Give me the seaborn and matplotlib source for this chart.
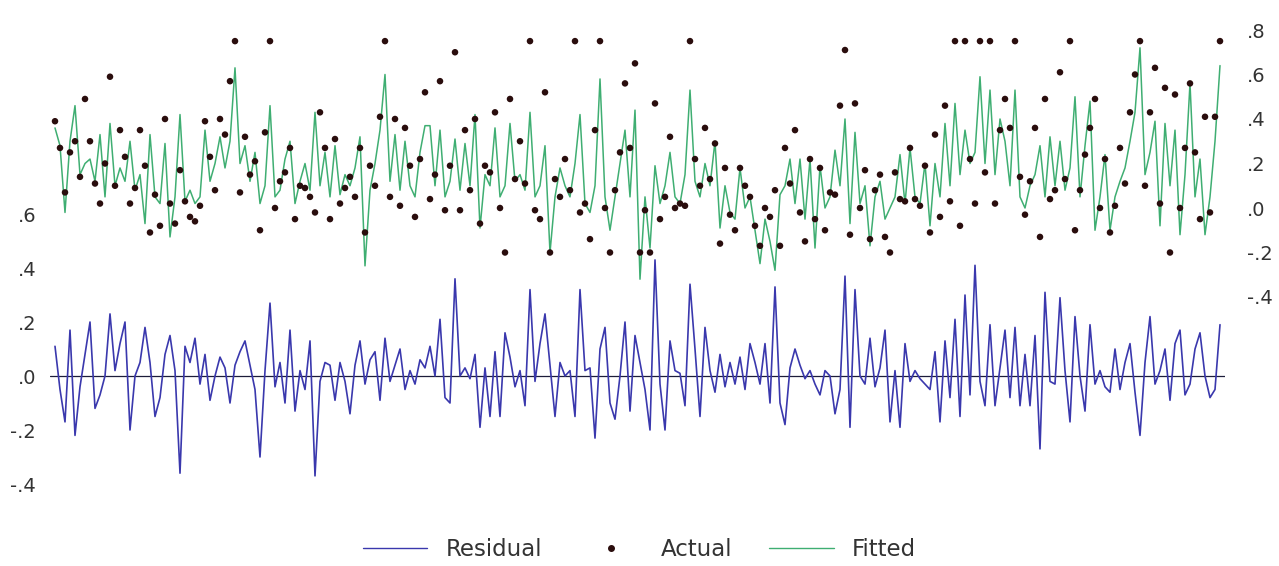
import numpy as np
import pandas as pd
import seaborn as sns
import matplotlib
matplotlib.use("Agg")
import matplotlib.pyplot as plt
from matplotlib.lines import Line2D

residual = [
    0.11, -0.05, -0.17, 0.17, -0.22, -0.04, 0.08, 0.20, -0.12, -0.07,
    0.00, 0.23, 0.02, 0.12, 0.20, -0.20, 0.00, 0.05, 0.18, 0.05,
    -0.15, -0.08, 0.08, 0.15, 0.02, -0.36, 0.11, 0.05, 0.14, -0.03,
    0.08, -0.09, 0.00, 0.07, 0.03, -0.10, 0.04,
    0.09, 0.13, 0.04, -0.05, -0.30, 0.02, 0.27, -0.04, 0.05, -0.10,
    0.17, -0.13, 0.02, -0.05, 0.13, -0.37, -0.02, 0.05, 0.04, -0.09,
    0.05, -0.02, -0.14, 0.04, 0.13, -0.03, 0.06, 0.09, -0.09, 0.14,
    -0.02, 0.04, 0.10, -0.05, 0.02, -0.03, 0.06, 0.03,
    0.11, 0.00, 0.21, -0.08, -0.10, 0.36, 0.00, 0.03, -0.01, 0.08,
    -0.19, 0.03, -0.15, 0.09, -0.15, 0.16, 0.07, -0.04, 0.02, -0.11,
    0.32, -0.02, 0.12, 0.23, 0.04, -0.15, 0.05, 0.00, 0.02, -0.15,
    0.32, 0.02, 0.03, -0.23, 0.10, 0.18, -0.10, -0.16, 0.00,
    0.20, -0.13, 0.15, 0.05, -0.05, -0.20, 0.43, -0.03, -0.20, 0.13,
    0.02, 0.01, -0.11, 0.34, 0.10, -0.15, 0.18, 0.02, -0.06, 0.08,
    -0.04, 0.05, -0.03, 0.07, -0.05, 0.12, 0.05, -0.03, 0.12, -0.10,
    0.33, -0.10, -0.18, 0.03, 0.10, 0.04, -0.01,
    0.02, -0.03, -0.07, 0.02, 0.00, -0.14, -0.05, 0.37, -0.19, 0.32,
    0.00, -0.03, 0.14, -0.04, 0.03, 0.17, -0.17, 0.02, -0.19, 0.12,
    -0.02, 0.02, -0.01, -0.03, -0.05, 0.09, -0.17, 0.13, -0.08, 0.21,
    -0.15, 0.30, -0.07, 0.41, -0.02, -0.11, 0.19, -0.11, 0.03,
    0.17, -0.08, 0.18, -0.11, 0.08, -0.11, 0.15, -0.27, 0.31, -0.02,
    -0.03, 0.29, 0.02, -0.17, 0.22, 0.00, -0.13, 0.19, -0.03, 0.02,
    -0.04, -0.06, 0.10, -0.05, 0.05, 0.12, -0.06, -0.22, 0.05, 0.22,
    -0.03, 0.02, 0.10, -0.09, 0.12, 0.17, -0.07, -0.03, 0.10, 0.16,
    0.00, -0.08, -0.05, 0.19,
]

actual = [
    0.39, 0.27, 0.07, 0.25, 0.30, 0.14, 0.49, 0.30, 0.11, 0.02,
    0.20, 0.59, 0.10, 0.35, 0.23, 0.02, 0.09, 0.35, 0.19, -0.11,
    0.06, -0.08, 0.40, 0.02, -0.07, 0.17, 0.03, -0.04, -0.06, 0.01,
    0.39, 0.23, 0.08, 0.40, 0.33, 0.57, 0.75,
    0.07, 0.32, 0.15, 0.21, -0.10, 0.34, 0.75, 0.00, 0.12, 0.16,
    0.27, -0.05, 0.10, 0.09, 0.05, -0.02, 0.43, 0.27, -0.05, 0.31,
    0.02, 0.09, 0.14, 0.05, 0.27, -0.11, 0.19, 0.10, 0.41, 0.75,
    0.05, 0.40, 0.01, 0.36, 0.19, -0.04, 0.22, 0.52,
    0.04, 0.15, 0.57, -0.01, 0.19, 0.70, -0.01, 0.35, 0.08, 0.40,
    -0.07, 0.19, 0.16, 0.43, 0.00, -0.20, 0.49, 0.13, 0.30, 0.11,
    0.75, -0.01, -0.05, 0.52, -0.20, 0.13, 0.05, 0.22, 0.08, 0.75,
    -0.02, 0.02, -0.14, 0.35, 0.75, 0.00, -0.20, 0.08, 0.25,
    0.56, 0.27, 0.65, -0.20, -0.01, -0.20, 0.47, -0.05, 0.05, 0.32,
    0.00, 0.02, 0.01, 0.75, 0.22, 0.10, 0.36, 0.13, 0.29, -0.16,
    0.18, -0.03, -0.10, 0.18, 0.10, 0.05, -0.08, -0.17, 0.00, -0.04,
    0.08, -0.17, 0.27, 0.11, 0.35, -0.02, -0.15,
    0.22, -0.05, 0.18, -0.10, 0.07, 0.06, 0.46, 0.71, -0.12, 0.47,
    0.00, 0.17, -0.14, 0.08, 0.15, -0.13, -0.20, 0.16, 0.04, 0.03,
    0.27, 0.04, 0.01, 0.19, -0.11, 0.33, -0.04, 0.46, 0.03, 0.75,
    -0.08, 0.75, 0.22, 0.02, 0.75, 0.16, 0.75, 0.02, 0.35,
    0.49, 0.36, 0.75, 0.14, -0.03, 0.12, 0.36, -0.13, 0.49, 0.04,
    0.08, 0.61, 0.13, 0.75, -0.10, 0.08, 0.24, 0.36, 0.49, 0.00,
    0.22, -0.11, 0.01, 0.27, 0.11, 0.43, 0.60, 0.75, 0.10, 0.43,
    0.63, 0.02, 0.54, -0.20, 0.51, 0.00, 0.27, 0.56, 0.25, -0.05,
    0.41, -0.02, 0.41, 0.75,
]

fitted = [
    0.36, 0.28, -0.02, 0.30, 0.46, 0.15, 0.20, 0.22, 0.12, 0.33,
    0.05, 0.38, 0.10, 0.18, 0.12, 0.30, 0.08, 0.15, -0.07, 0.33,
    0.05, 0.02, 0.29, -0.13, 0.05, 0.42, 0.03, 0.08, 0.02, 0.05,
    0.35, 0.12, 0.20, 0.32, 0.18, 0.30, 0.63,
    0.20, 0.28, 0.12, 0.25, 0.02, 0.10, 0.46, 0.05, 0.08, 0.22,
    0.30, 0.02, 0.12, 0.20, 0.08, 0.43, 0.10, 0.25, 0.05, 0.28,
    0.06, 0.15, 0.10, 0.18, 0.32, -0.26, 0.08, 0.20, 0.35, 0.60,
    0.12, 0.33, 0.08, 0.30, 0.10, 0.05, 0.25, 0.37,
    0.37, 0.10, 0.35, 0.05, 0.12, 0.31, 0.08, 0.29, 0.10, 0.42,
    -0.09, 0.15, 0.10, 0.36, 0.05, 0.10, 0.38, 0.12, 0.15, 0.08,
    0.43, 0.05, 0.10, 0.28, -0.20, 0.05, 0.18, 0.10, 0.05, 0.20,
    0.42, 0.02, -0.02, 0.10, 0.58, 0.05, -0.10, 0.05, 0.20,
    0.35, 0.05, 0.44, -0.32, 0.05, -0.18, 0.19, 0.02, 0.10, 0.25,
    0.05, 0.02, 0.15, 0.53, 0.12, 0.05, 0.20, 0.10, 0.30, -0.09,
    0.10, -0.02, -0.05, 0.18, 0.00, 0.05, -0.10, -0.25, -0.05, -0.15,
    -0.28, 0.06, 0.10, 0.22, 0.02, 0.22, -0.05,
    0.22, -0.18, 0.19, 0.00, 0.05, 0.26, 0.10, 0.40, -0.07, 0.34,
    0.02, 0.10, -0.17, 0.05, 0.12, -0.05, 0.00, 0.05, 0.24, 0.02,
    0.27, 0.05, 0.02, 0.20, -0.08, 0.20, 0.05, 0.38, 0.10, 0.47,
    0.15, 0.35, 0.20, 0.25, 0.59, 0.20, 0.53, 0.15, 0.40,
    0.30, 0.10, 0.53, 0.05, 0.00, 0.10, 0.15, 0.28, 0.05, 0.32,
    0.10, 0.30, 0.08, 0.18, 0.50, 0.05, 0.28, 0.48, -0.10, 0.05,
    0.24, -0.10, 0.05, 0.12, 0.18, 0.30, 0.43, 0.72, 0.15, 0.25,
    0.39, -0.08, 0.38, 0.10, 0.35, -0.12, 0.15, 0.56, 0.05, 0.22,
    -0.12, 0.05, 0.30, 0.64,
]

left_ticks = [0.6, 0.4, 0.2, 0.0, -0.2, -0.4]
left_labels = [".6", ".4", ".2", ".0", "-.2", "-.4"]
right_ticks = [0.8, 0.6, 0.4, 0.2, 0.0, -0.2, -0.4]
right_labels = [".8", ".6", ".4", ".2", ".0", "-.2", "-.4"]

df = pd.DataFrame({"Residual": residual, "Actual": actual, "Fitted": fitted})
df["obs"] = np.arange(len(df))

blue = "#3a38ad"
green = "#3fae72"
dot = "#2a0d0d"

sns.set_style("white")
plt.rcParams["font.family"] = ["DejaVu Sans"]

fig = plt.figure(figsize=(12.79, 5.66), dpi=100)
ax = fig.add_axes([50 / 1279, 1 - 500 / 566, 1175 / 1279, 475 / 566])
ax2 = ax.twinx()

# residual on left scale
ax.axhline(0, color="#1c1c3a", lw=0.9, zorder=1)
sns.lineplot(data=df, x="obs", y="Residual", ax=ax, color=blue, lw=1.2, zorder=2)

# actual and fitted on right scale
sns.lineplot(data=df, x="obs", y="Fitted", ax=ax2, color=green, lw=1.1, zorder=2)
sns.scatterplot(data=df, x="obs", y="Actual", ax=ax2, color=dot, s=22,
                marker="o", edgecolor="none", zorder=3)

ax.set_xlim(-1, 234)
ax.set_ylim(-124 / 270, 351 / 270)
ax2.set_ylim(-292 / 222.5, 183 / 222.5)

ax.set_xticks([])
ax.set_yticks(left_ticks)
ax.set_yticklabels(left_labels, fontsize=14, color="#333333")
ax2.set_yticks(right_ticks)
ax2.set_yticklabels(right_labels, fontsize=14, color="#333333")
ax.tick_params(axis="y", length=0, pad=10)
ax2.tick_params(axis="y", length=0, pad=16)
for a in (ax, ax2):
    a.set_xlabel("")
    a.set_ylabel("")
    for s in a.spines.values():
        s.set_visible(False)

handles = [
    Line2D([], [], color=blue, lw=1.0),
    Line2D([], [], color=dot, marker="o", ls="none", markersize=4),
    Line2D([], [], color=green, lw=1.0),
]
fig.legend(handles, ["Residual", "Actual", "Fitted"], loc="lower center",
           bbox_to_anchor=(0.5, -0.028), ncol=3, frameon=False, fontsize=16.5,
           handlelength=2.8, columnspacing=1.6, labelcolor="#333333")

fig.savefig("out.png", dpi=100)
